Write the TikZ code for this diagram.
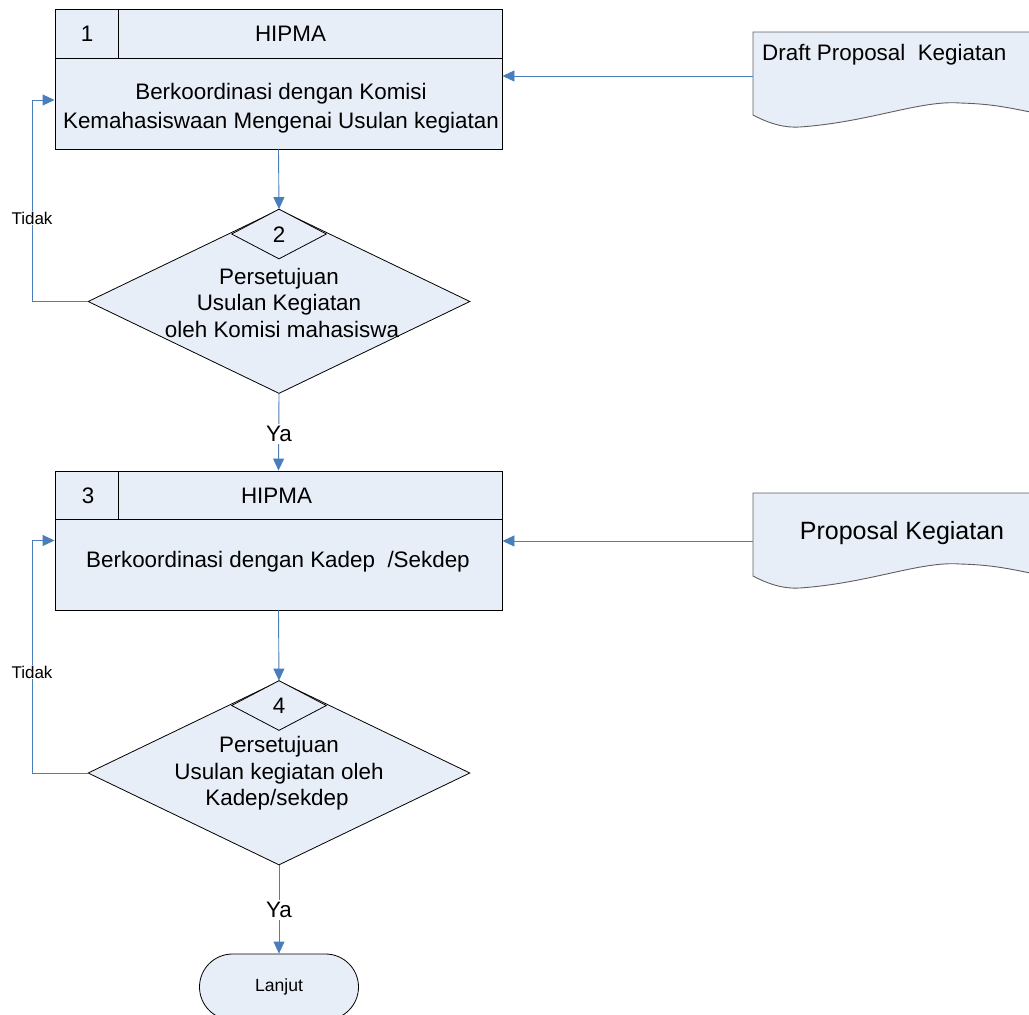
\documentclass[tikz,border=0pt]{standalone}
\usepackage{fontspec}
\setmainfont{Liberation Sans}
\usetikzlibrary{shapes.geometric,arrows.meta}

\definecolor{boxfill}{RGB}{232,238,247}
\definecolor{flow}{RGB}{74,126,187}
\definecolor{docline}{RGB}{95,95,95}

\begin{document}
\begin{tikzpicture}[x=1pt,y=-1pt,
  every node/.style={font=\fontsize{22.4}{29}\selectfont},
  procbox/.style={draw=black, line width=0.9pt, fill=boxfill,
    minimum width=447pt, inner sep=0pt},
  decision/.style={diamond, draw=black, line width=0.8pt, fill=boxfill,
    minimum width=382pt, minimum height=184pt, inner sep=0pt},
  tagdiamond/.style={diamond, draw=black, line width=0.8pt, fill=boxfill,
    minimum width=95pt, minimum height=50pt, inner sep=0pt},
  terminal/.style={draw=black, line width=0.8pt, fill=boxfill,
    rounded corners=33pt, minimum width=159pt, minimum height=66pt,
    font=\fontsize{17.6}{20}\selectfont},
  docshape/.style={draw=docline, line width=0.9pt, fill=boxfill},
  divider/.style={draw=black, line width=0.9pt},
  flow/.style={draw=flow, line width=0.9pt, -{Triangle[length=12pt,width=11pt]}},
  flowline/.style={draw=flow, line width=0.9pt},
  steptext/.style={align=center, inner sep=0pt},
  decisiontext/.style={align=center, inner sep=0pt,
    font=\fontsize{22.4}{26.5}\selectfont},
  smalllabel/.style={fill=white, inner sep=1pt,
    font=\fontsize{17}{20}\selectfont},
  yeslabel/.style={fill=white, inner sep=2pt}]

\useasboundingbox (0,0) rectangle (1029,1015);

% ---- documents on the right ----
\draw[docshape] (753,32) -- (1045,32) -- (1045,115)
  .. controls (1010,108) and (995,104) .. (960,103)
  .. controls (920,100) and (870,122) .. (800,127)
  .. controls (785,128) and (770,124) .. (753,115) -- cycle;
\node[anchor=west, inner sep=0pt] (d1text) at (762,55) {Draft Proposal\ \ Kegiatan};
\coordinate (d1in) at (753,76);

\draw[docshape] (753,493) -- (1045,493) -- (1045,576)
  .. controls (1010,569) and (995,565) .. (960,564)
  .. controls (920,561) and (870,583) .. (800,588)
  .. controls (785,589) and (770,585) .. (753,576) -- cycle;
\node[inner sep=0pt, font=\fontsize{25}{30}\selectfont] (d2text) at (902,533) {Proposal Kegiatan};
\coordinate (d2in) at (753,541);

% ---- step 1 ----
\node[procbox, minimum height=140pt] (b1) at (278.5,79) {};
\draw[divider] ([yshift=-50pt]b1.north west) -- ([yshift=-50pt]b1.north east);
\draw[divider] ([xshift=64pt]b1.north west) -- ([xshift=64pt,yshift=-50pt]b1.north west);
\node[steptext] (n1) at (87,34) {1};
\node[steptext] (h1) at (290.5,34) {HIPMA};
\node[steptext] (t1) at (281,108.5) {Berkoordinasi dengan Komisi\\Kemahasiswaan Mengenai Usulan kegiatan};

% ---- step 2 ----
\node[decision] (q2) at (279,301.5) {};
\node[tagdiamond] (g2) at (279,234) {};
\node[steptext] (n2) at (279,235) {2};
\node[decisiontext] (t2) at (279,302.5)
  {Persetujuan\\Usulan Kegiatan\hspace*{24pt}\\\hspace*{6pt}oleh Komisi mahasiswa};

% ---- step 3 ----
\node[procbox, minimum height=139pt] (b3) at (278.5,540.5) {};
\draw[divider] ([yshift=-49pt]b3.north west) -- ([yshift=-49pt]b3.north east);
\draw[divider] ([xshift=64pt]b3.north west) -- ([xshift=64pt,yshift=-49pt]b3.north west);
\node[steptext] (n3) at (88,496) {3};
\node[steptext] (h3) at (276.5,496) {HIPMA};
\node[steptext] (t3) at (278,562) {Berkoordinasi dengan Kadep\ \ /Sekdep};

% ---- step 4 ----
\node[decision] (q4) at (279,773) {};
\node[tagdiamond] (g4) at (279,705.5) {};
\node[steptext] (n4) at (279,706) {4};
\node[decisiontext] (t4) at (279,773.5)
  {Persetujuan\\Usulan kegiatan oleh\hspace*{23pt}\\Kadep/sekdep\hspace*{4pt}};

% ---- end ----
\node[terminal] (end) at (279,987) {Lanjut};

% ---- connectors ----
\draw[flow] (d1in) -- (b1.east |- d1in);
\draw[flow] (d2in) -- (b3.east |- d2in);
\draw[flow] (b1.south) -- (q2.north);
\draw[flow] (q2.west) -- ++(-55,0) |- ([yshift=-21pt]b1.west);
\draw[flow] (q2.south) -- (b3.north);
\draw[flow] (b3.south) -- (q4.north);
\draw[flow] (q4.west) -- ++(-55,0) |- (b3.west);
\draw[flow] (q4.south) -- (end.north);

% ---- connector labels ----
\node[smalllabel] (no1) at (32,218) {Tidak};
\node[smalllabel] (no2) at (32,672) {Tidak};
\node[yeslabel] (yes1) at (279,434) {Ya};
\node[yeslabel] (yes2) at (279,910) {Ya};

\end{tikzpicture}
\end{document}
